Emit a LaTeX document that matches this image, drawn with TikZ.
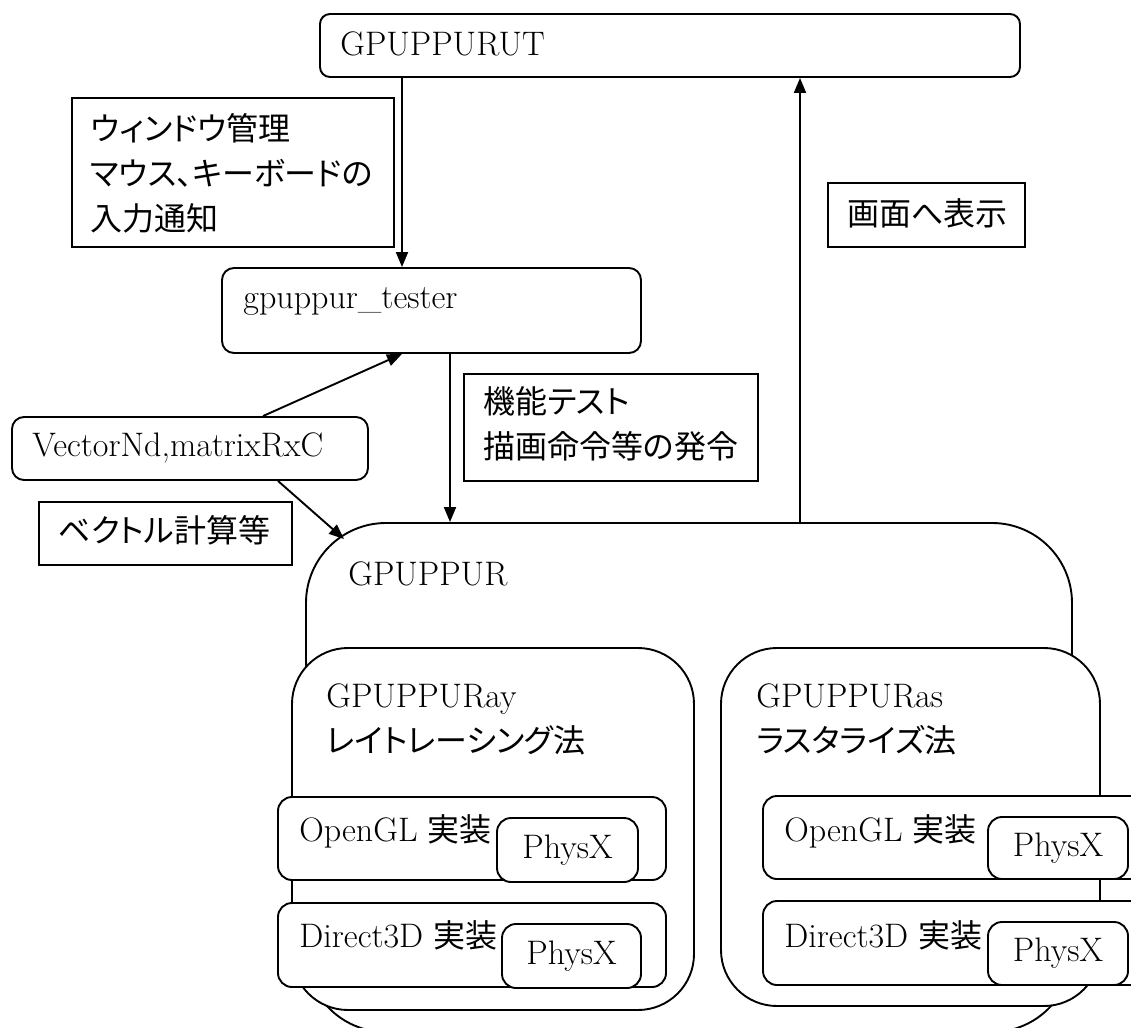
\documentclass[tikz,border=0pt]{standalone}
\usepackage{fontspec}
\newfontfamily\jpfont[RawFeature=+palt]{Noto Sans CJK JP}
\usetikzlibrary{positioning}
\usetikzlibrary{fit}
\usetikzlibrary{arrows.meta}
\tikzset{
	module/.style={
		draw, line width=0.95pt, fill=white, inner sep=0pt, rounded corners=#1
	},
	module/.default=6pt,
	note/.style={
		draw, line width=0.95pt, fill=white, inner sep=0pt
	},
	caption/.style={
		anchor=west, inner sep=0pt, align=left, font=\fontsize{17}{22.5}\selectfont
	},
	link/.style={
		line width=0.95pt, -{Triangle[length=7.5pt,width=6pt]}
	}
}
\def\ja#1{{\jpfont\fontsize{16}{22.5}\selectfont #1}}

\begin{document}
\begin{tikzpicture}[x=0.5pt, y=-0.5pt]
    \useasboundingbox (0,0) rectangle (1131,1028);
    \clip (0,0) rectangle (1131,1028);

    % upper part
    \node[module=5pt, fit={(320,14) (1020,77)}] (ut) {};
    \node[caption] (ut-name) at (340,44) {GPUPPURUT};
    \node[note, fit={(72,98) (394,247)}] (window) {};
    \node[caption] (window-text) at (90,173) {\ja{ウィンドウ管理}\\\ja{マウス、キーボードの}\\\ja{入力通知}};
    \node[module, fit={(222,268) (641,353)}] (tester) {};
    \node[caption] (tester-name) at (243,302) {gpuppur\_tester};
    \node[note, fit={(464,374) (758,481)}] (func) {};
    \node[caption] (func-text) at (483,424) {\ja{機能テスト}\\\ja{描画命令等の発令}};
    \node[note, fit={(828,183) (1025,247)}] (show) {};
    \node[caption] (show-text) at (847,213) {\ja{画面へ表示}};
    \node[module, fit={(12,417) (368,480)}] (vec) {};
    \node[caption] (vec-name) at (32,448) {VectorNd,matrixRxC};
    \node[note, fit={(39,502) (292,565)}] (calc) {};
    \node[caption] (calc-text) at (58,530) {\ja{ベクトル計算等}};

    % GPUPPUR and its parts
    \node[module=40pt, fit={(306,523) (1072,1032)}] (gpuppur) {};
    \node[caption] (gpuppur-name) at (348,574) {GPUPPUR};
    \node[module=28pt, fit={(292,648) (694,1010)}] (ray) {};
    \node[caption] (ray-name) at (326,719) {GPUPPURay\\\ja{レイトレーシング法}};
    \node[module=28pt, fit={(721,648) (1100,1006)}] (ras) {};
    \node[caption] (ras-name) at (756,719) {GPUPPURas\\\ja{ラスタライズ法}};

    \node[module=7pt, fit={(278,797) (666,880)}] (ray-gl) {};
    \node[caption] (ray-gl-name) at (299,831) {OpenGL \ja{実装}};
    \node[module=7pt, fit={(497,818) (638,882)}] (ray-gl-px) {};
    \node[caption, anchor=center] at (ray-gl-px.center) {PhysX};
    \node[module=7pt, fit={(278,903) (666,987)}] (ray-dx) {};
    \node[caption] (ray-dx-name) at (299,935) {Direct3D \ja{実装}};
    \node[module=7pt, fit={(502,924) (641,988)}] (ray-dx-px) {};
    \node[caption, anchor=center] at (ray-dx-px.center) {PhysX};

    \node[module=7pt, fit={(763,796) (1145,879)}] (ras-gl) {};
    \node[caption] (ras-gl-name) at (784,831) {OpenGL \ja{実装}};
    \node[module=7pt, fit={(988,817) (1128,879)}] (ras-gl-px) {};
    \node[caption, anchor=center] at (ras-gl-px.center) {PhysX};
    \node[module=7pt, fit={(763,901) (1145,985)}] (ras-dx) {};
    \node[caption] (ras-dx-name) at (784,935) {Direct3D \ja{実装}};
    \node[module=7pt, fit={(988,922) (1128,985)}] (ras-dx-px) {};
    \node[caption, anchor=center] at (ras-dx-px.center) {PhysX};

    % connectors
    \coordinate (down-x) at (402,0);
    \coordinate (test-x) at (450,0);
    \coordinate (show-x) at (800,0);
    \coordinate (corner-hit) at (344,539);
    \draw[link] (ut.south -| down-x) -- (tester.north -| down-x);
    \draw[link] (tester.south -| test-x) -- (gpuppur.north -| test-x);
    \draw[link] (gpuppur.north -| show-x) -- (ut.south -| show-x);
    \draw[link] ([xshift=36.5pt]vec.north) -- (tester.south -| down-x);
    \draw[link] ([xshift=44pt]vec.south) -- (corner-hit);
\end{tikzpicture}
\end{document}
